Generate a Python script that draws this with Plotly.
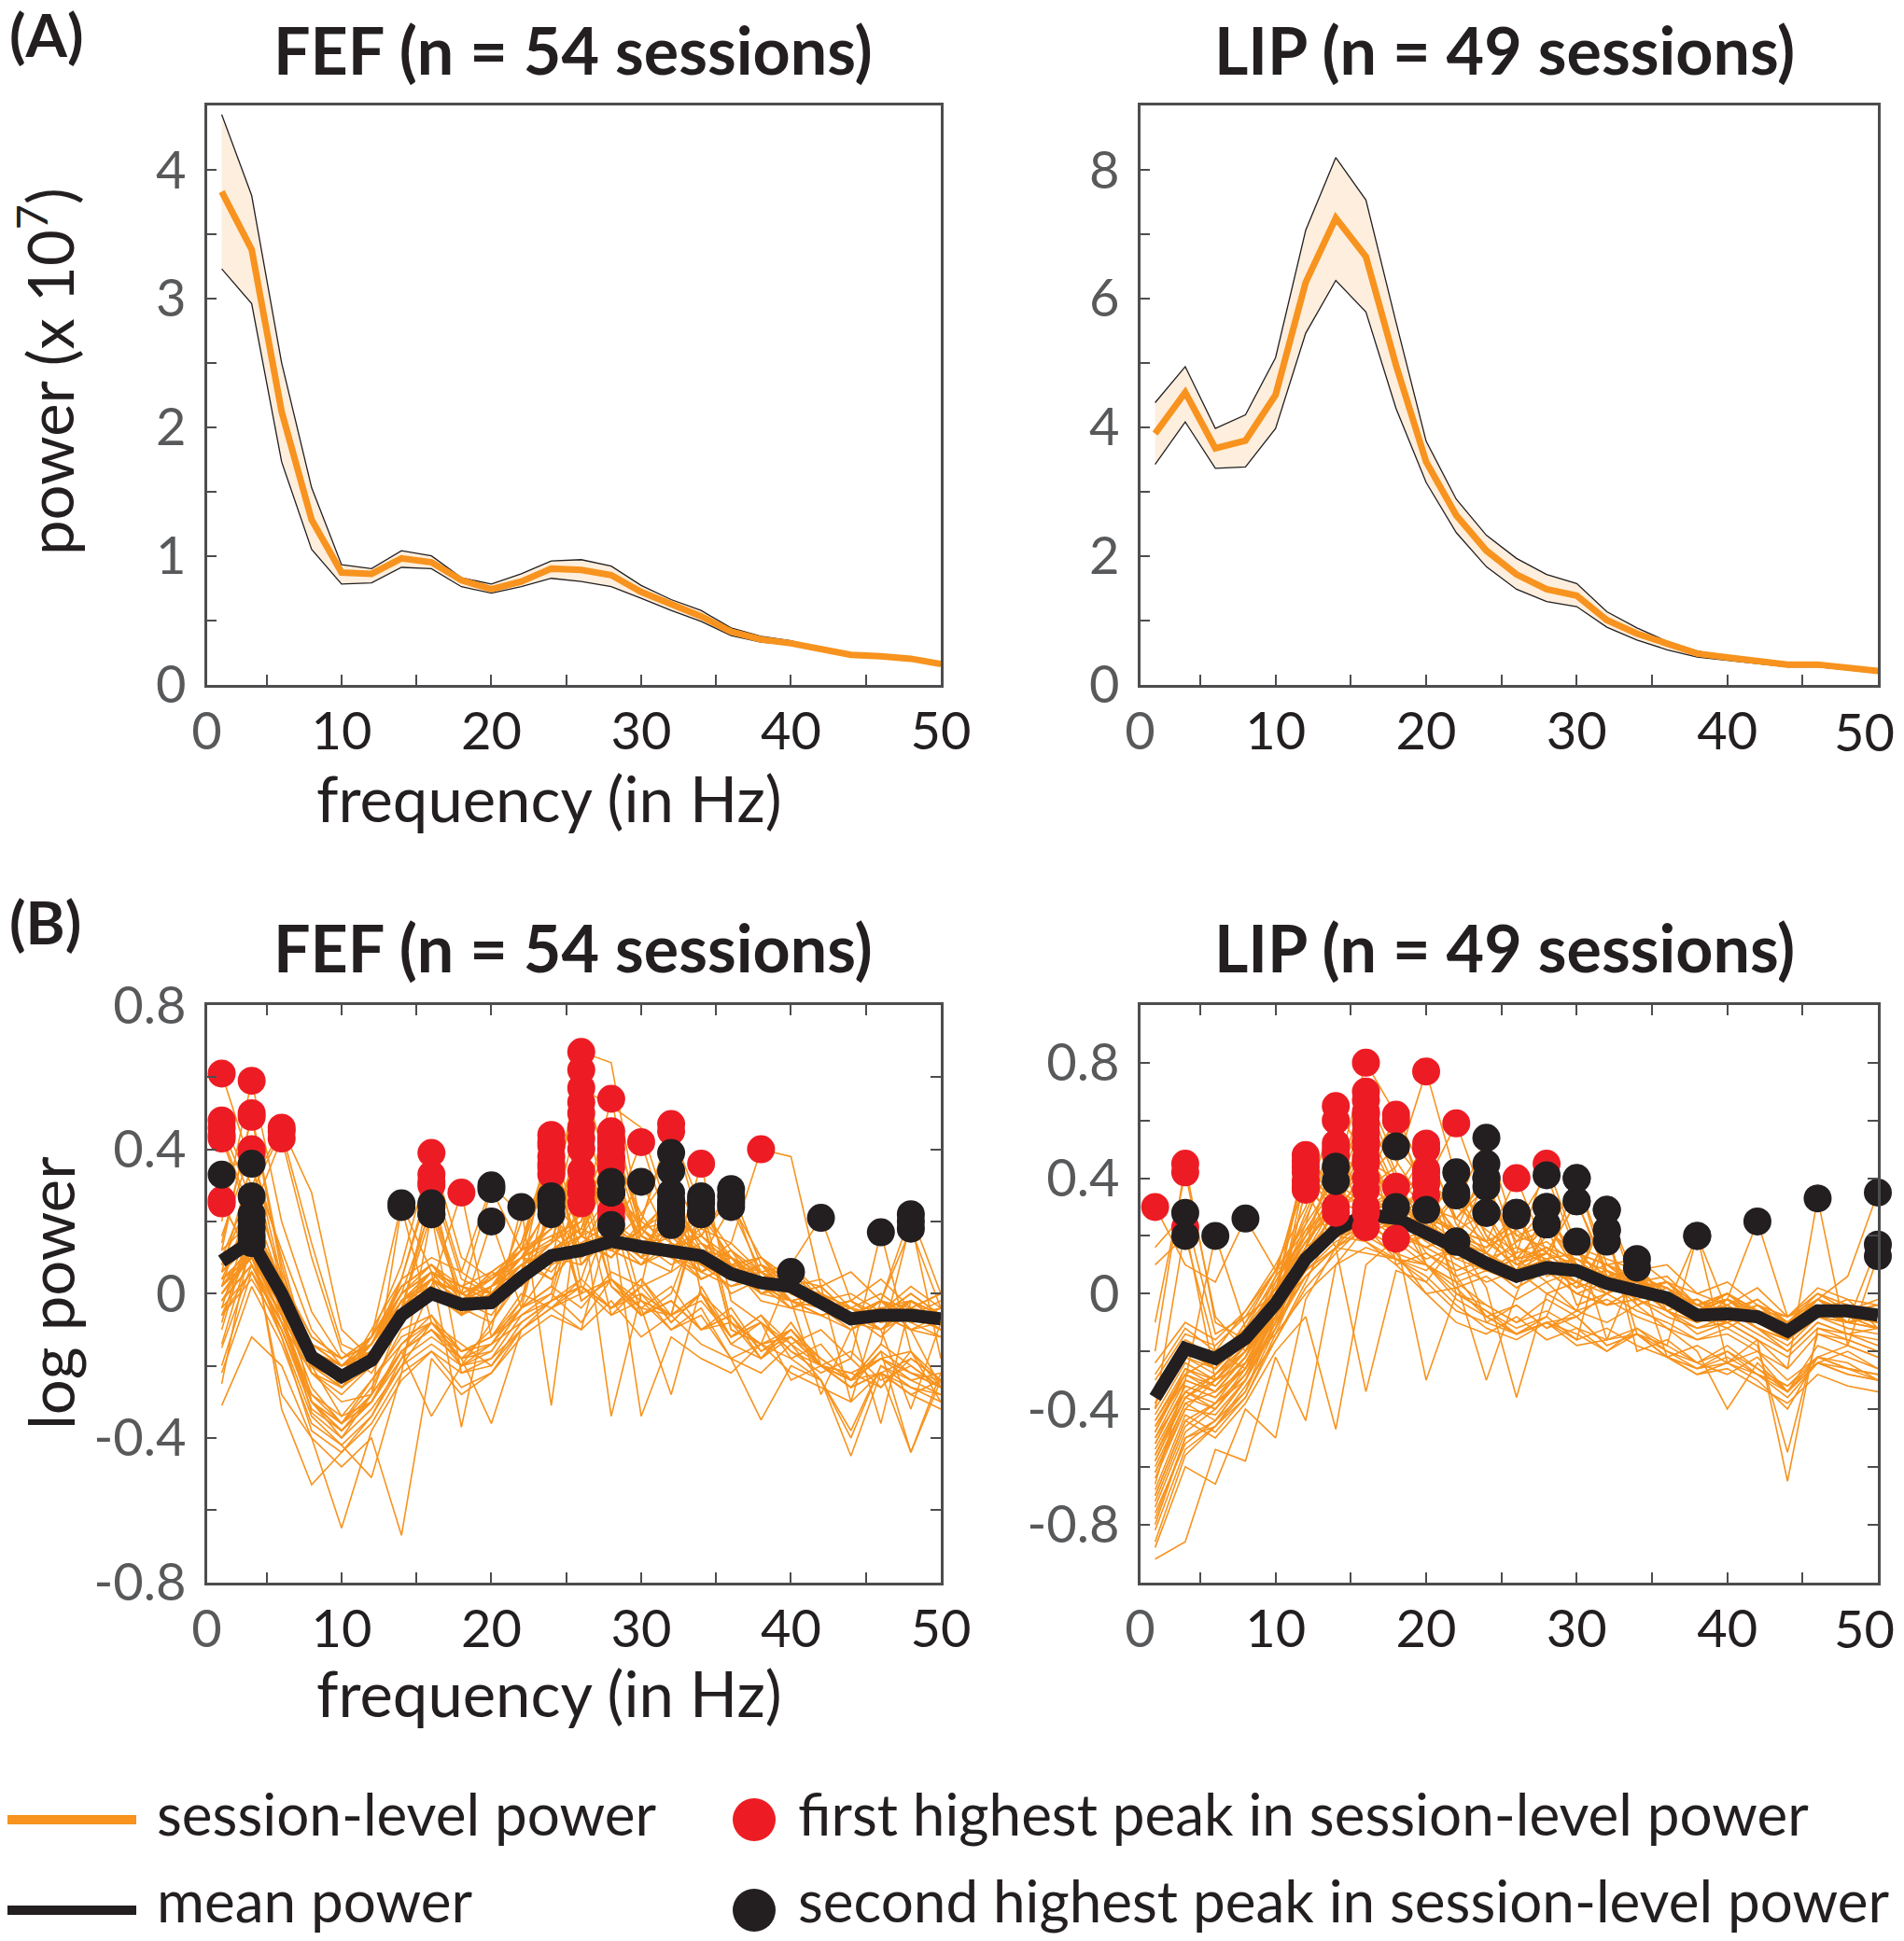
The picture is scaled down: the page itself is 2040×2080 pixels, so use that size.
import plotly.graph_objects as go

# --- frequency grid (Hz) ---
FREQS = [2, 4, 6, 8, 10, 12, 14, 16, 18, 20, 22, 24, 26, 28, 30, 32, 34, 36, 38, 40, 42, 44, 46, 48, 50]

# --- (A) raw power, x 10^7 ---
FEF_MEAN = [3.83, 3.38, 2.12, 1.28, 0.87, 0.86, 0.98, 0.95, 0.81, 0.74, 0.80, 0.90, 0.89, 0.85, 0.72,
            0.62, 0.53, 0.41, 0.35, 0.32, 0.27, 0.23, 0.22, 0.20, 0.16]
FEF_UPPER = [4.43, 3.80, 2.50, 1.53, 0.93, 0.90, 1.04, 1.00, 0.83, 0.78, 0.86, 0.96, 0.97, 0.92, 0.77,
             0.66, 0.575, 0.44, 0.375, 0.34, 0.28, 0.24, 0.225, 0.21, 0.17]
FEF_LOWER = [3.23, 2.96, 1.73, 1.05, 0.78, 0.79, 0.91, 0.90, 0.76, 0.71, 0.76, 0.825, 0.80, 0.76, 0.67,
             0.575, 0.49, 0.38, 0.33, 0.31, 0.26, 0.22, 0.21, 0.19, 0.15]
LIP_MEAN = [3.90, 4.54, 3.67, 3.79, 4.50, 6.25, 7.25, 6.65, 4.96, 3.46, 2.63, 2.08, 1.71, 1.48, 1.38,
            1.00, 0.79, 0.63, 0.48, 0.42, 0.36, 0.31, 0.31, 0.26, 0.21]
LIP_UPPER = [4.38, 4.94, 3.98, 4.19, 5.08, 7.06, 8.19, 7.53, 5.63, 3.78, 2.88, 2.32, 1.96, 1.71, 1.57,
             1.13, 0.88, 0.67, 0.52, 0.44, 0.375, 0.325, 0.325, 0.275, 0.225]
LIP_LOWER = [3.42, 4.08, 3.36, 3.38, 3.98, 5.46, 6.28, 5.79, 4.29, 3.14, 2.36, 1.83, 1.48, 1.29, 1.21,
             0.89, 0.69, 0.54, 0.425, 0.375, 0.325, 0.275, 0.275, 0.23, 0.18]

# --- (B) log power ---
FEF_LOG_MEAN = [0.09, 0.145, 0.0, -0.175, -0.23, -0.185, -0.06, 0.0, -0.03, -0.025, 0.045, 0.105, 0.12,
                0.145, 0.13, 0.12, 0.105, 0.055, 0.03, 0.02, -0.02, -0.07, -0.06, -0.06, -0.07]
LIP_LOG_MEAN = [-0.36, -0.19, -0.225, -0.155, -0.035, 0.12, 0.22, 0.275, 0.26, 0.215, 0.16, 0.105, 0.06,
                0.09, 0.08, 0.035, 0.01, -0.015, -0.075, -0.07, -0.08, -0.13, -0.06, -0.06, -0.075]

FEF_SESSIONS = [
    [0.61, 0.35, 0.12, -0.10, -0.20, -0.12, 0.02, 0.08, -0.02, 0.05, 0.10, 0.15, 0.22, 0.31, 0.18, 0.20, 0.12, 0.10, 0.04, 0.08, -0.02, 0.00, -0.05, 0.02, -0.04],
    [0.48, 0.30, 0.05, -0.30, -0.36, -0.26, -0.10, -0.06, -0.16, -0.12, -0.04, 0.02, -0.04, 0.06, 0.02, 0.39, 0.00, -0.08, -0.14, -0.10, -0.18, -0.24, -0.14, -0.20, -0.26],
    [0.44, 0.22, -0.05, -0.33, -0.40, -0.32, -0.20, -0.08, -0.18, -0.16, -0.04, 0.27, -0.02, 0.04, -0.06, -0.02, -0.10, -0.06, -0.18, -0.10, -0.20, -0.26, -0.16, -0.44, -0.22],
    [0.25, 0.10, -0.12, -0.38, -0.44, -0.36, -0.22, 0.22, -0.22, -0.18, -0.10, -0.04, -0.10, -0.02, -0.12, -0.06, -0.14, -0.18, -0.22, -0.14, -0.24, -0.40, -0.20, -0.26, -0.28],
    [0.20, 0.59, 0.20, -0.05, -0.18, -0.14, 0.00, 0.06, 0.02, -0.02, 0.06, 0.12, 0.18, 0.14, 0.22, 0.34, 0.16, 0.08, 0.06, 0.00, 0.02, -0.06, -0.04, -0.02, -0.08],
    [0.12, 0.50, 0.08, -0.22, -0.30, -0.28, -0.16, -0.08, -0.14, -0.20, -0.08, -0.02, 0.04, 0.28, -0.02, -0.06, 0.00, -0.12, -0.06, -0.18, -0.14, -0.24, -0.18, -0.16, -0.26],
    [0.33, 0.39, 0.10, -0.20, -0.34, -0.24, -0.12, -0.08, -0.18, -0.36, -0.10, -0.04, 0.02, -0.04, 0.04, -0.08, 0.00, -0.14, -0.18, -0.08, -0.20, -0.22, -0.26, -0.18, -0.24],
    [0.10, 0.30, 0.46, 0.28, -0.10, -0.18, -0.02, 0.06, -0.04, 0.00, 0.08, 0.04, 0.14, 0.10, 0.18, 0.12, 0.16, 0.29, 0.08, 0.04, -0.04, -0.02, -0.08, -0.04, -0.10],
    [0.04, 0.22, 0.43, 0.10, -0.16, -0.22, -0.08, 0.04, -0.02, -0.06, 0.06, 0.10, 0.08, 0.16, 0.12, 0.10, 0.27, 0.06, 0.10, 0.00, 0.02, -0.30, -0.02, -0.10, -0.06],
    [0.06, 0.36, 0.02, -0.20, -0.24, -0.12, 0.08, 0.39, 0.10, 0.04, 0.12, 0.16, 0.10, 0.18, 0.14, 0.08, 0.12, 0.04, 0.08, 0.02, -0.04, -0.02, -0.08, -0.04, -0.06],
    [0.02, 0.27, -0.04, -0.16, -0.26, -0.18, 0.04, 0.33, 0.06, 0.00, 0.10, 0.04, 0.14, 0.10, 0.18, 0.12, 0.06, 0.10, 0.02, -0.04, 0.00, -0.08, -0.02, -0.10, -0.26],
    [-0.06, 0.14, -0.08, -0.30, -0.40, -0.28, -0.06, 0.30, -0.06, 0.20, -0.04, 0.00, -0.08, 0.04, -0.04, 0.02, -0.10, -0.04, -0.16, -0.10, -0.20, -0.16, -0.24, -0.20, -0.26],
    [-0.04, 0.22, -0.06, -0.30, -0.38, -0.30, -0.18, 0.02, 0.28, -0.12, 0.00, -0.04, 0.04, -0.04, 0.02, -0.08, 0.00, -0.14, -0.08, -0.16, -0.22, -0.18, -0.26, -0.16, -0.24],
    [-0.10, 0.18, -0.04, -0.26, -0.36, -0.24, -0.14, -0.06, -0.20, -0.08, 0.06, 0.44, 0.02, -0.04, 0.04, -0.06, 0.00, -0.12, -0.06, -0.14, -0.20, -0.24, -0.16, -0.22, -0.24],
    [0.00, 0.12, -0.02, -0.18, -0.22, -0.12, 0.25, 0.06, -0.37, 0.02, 0.14, 0.38, 0.16, 0.20, 0.12, 0.16, 0.08, 0.10, 0.02, 0.06, -0.02, -0.08, -0.06, -0.02, -0.08],
    [0.08, 0.16, 0.02, -0.16, -0.20, -0.18, -0.04, 0.04, 0.00, -0.04, 0.20, 0.35, 0.12, 0.18, 0.10, 0.25, 0.06, 0.12, 0.04, 0.00, 0.02, -0.06, -0.10, -0.02, -0.06],
    [0.12, 0.20, 0.04, -0.12, -0.18, -0.14, 0.02, 0.08, -0.02, 0.04, 0.10, 0.20, 0.67, 0.64, 0.18, 0.23, 0.14, 0.08, 0.10, 0.04, -0.02, -0.04, 0.00, -0.06, -0.02],
    [0.02, 0.10, -0.06, -0.20, -0.24, -0.10, 0.04, 0.10, 0.06, 0.30, 0.22, 0.28, 0.57, 0.52, 0.46, 0.20, 0.16, 0.10, 0.04, 0.08, 0.00, -0.06, -0.04, -0.08, -0.04],
    [-0.15, 0.08, -0.10, -0.32, -0.38, -0.30, -0.16, -0.34, -0.20, -0.16, -0.04, 0.08, 0.50, 0.04, -0.02, -0.06, 0.23, -0.10, -0.14, -0.18, -0.24, -0.38, -0.20, -0.24, -0.28],
    [0.06, 0.14, 0.00, -0.18, -0.22, -0.18, -0.04, 0.06, -0.04, 0.02, 0.12, 0.18, 0.43, 0.16, 0.10, 0.20, 0.08, 0.02, 0.06, -0.02, 0.00, -0.08, -0.10, -0.04, -0.08],
    [-0.20, 0.06, -0.12, -0.34, -0.42, -0.34, -0.18, -0.12, -0.18, -0.10, 0.24, -0.31, 0.30, 0.02, -0.06, -0.02, -0.10, -0.08, -0.18, -0.12, -0.20, -0.26, -0.22, -0.44, -0.24],
    [-0.14, 0.14, -0.28, -0.40, -0.65, -0.38, -0.24, -0.16, -0.26, -0.22, -0.10, -0.02, 0.25, -0.34, 0.00, -0.10, -0.06, -0.18, -0.14, -0.22, -0.26, -0.30, -0.22, -0.28, -0.32],
    [0.00, 0.12, -0.04, -0.20, -0.26, -0.16, -0.02, 0.04, -0.06, 0.02, 0.06, 0.14, 0.20, 0.54, 0.16, 0.12, 0.22, 0.10, 0.04, 0.06, -0.02, -0.06, -0.02, -0.08, -0.06],
    [0.04, 0.10, -0.02, -0.16, -0.20, -0.14, 0.00, 0.06, 0.02, -0.02, 0.08, 0.12, 0.18, 0.43, 0.20, 0.14, 0.10, 0.24, 0.06, 0.02, 0.04, -0.04, -0.06, 0.00, -0.06],
    [-0.02, 0.08, -0.06, -0.22, -0.28, -0.20, -0.04, 0.25, 0.00, 0.04, 0.10, 0.06, 0.16, 0.40, 0.22, 0.10, 0.14, 0.04, 0.08, -0.02, -0.28, -0.10, -0.04, -0.08, -0.12],
    [0.06, 0.16, -0.02, -0.18, -0.24, -0.18, -0.04, 0.22, -0.02, 0.06, 0.02, 0.12, 0.18, 0.37, 0.14, 0.18, 0.08, 0.12, 0.00, 0.04, -0.04, -0.06, -0.12, -0.04, -0.08],
    [-0.31, -0.12, -0.20, -0.40, -0.48, -0.40, -0.67, -0.18, -0.28, -0.22, -0.12, -0.06, -0.10, 0.21, -0.34, -0.12, -0.18, -0.22, -0.14, 0.06, -0.20, -0.26, -0.22, -0.28, -0.24],
    [0.00, 0.10, -0.06, -0.20, -0.24, -0.18, -0.06, 0.00, -0.04, -0.08, 0.04, 0.10, 0.14, 0.20, 0.42, 0.16, 0.12, 0.06, 0.02, -0.02, 0.00, -0.06, -0.02, 0.18, -0.04],
    [0.04, 0.12, -0.02, -0.14, -0.20, -0.16, -0.02, 0.02, -0.06, 0.00, 0.06, 0.12, 0.16, 0.10, 0.20, 0.47, 0.18, 0.14, 0.06, 0.08, 0.21, -0.02, 0.04, -0.04, 0.00],
    [-0.06, 0.04, -0.10, -0.30, -0.36, -0.28, -0.16, -0.10, -0.20, -0.14, -0.08, -0.02, 0.02, -0.06, 0.02, 0.06, 0.36, -0.02, -0.08, -0.14, -0.10, -0.18, 0.17, -0.16, -0.30],
    [0.02, 0.10, -0.04, -0.18, -0.22, -0.16, -0.04, 0.02, -0.04, 0.00, 0.04, 0.10, 0.14, 0.12, 0.16, 0.12, 0.08, 0.14, 0.40, 0.38, 0.02, 0.06, -0.02, 0.22, 0.00],
    [-0.02, 0.08, -0.08, -0.22, -0.26, -0.20, -0.06, 0.00, -0.06, -0.02, 0.06, 0.14, 0.46, 0.12, 0.08, 0.19, 0.04, 0.08, -0.02, -0.04, -0.06, -0.10, -0.06, -0.10, -0.12],
    [0.04, 0.10, -0.04, -0.18, -0.24, -0.18, -0.04, 0.04, -0.02, 0.06, 0.12, 0.41, 0.08, 0.19, 0.10, 0.06, 0.12, 0.00, 0.04, -0.02, -0.06, -0.04, -0.10, -0.06, -0.08],
    [0.08, 0.18, 0.02, -0.14, -0.20, -0.14, 0.00, 0.08, 0.02, 0.00, 0.10, 0.14, 0.22, 0.45, 0.18, 0.26, 0.14, 0.10, 0.06, 0.00, -0.02, -0.06, -0.02, -0.06, -0.04],
    [0.46, 0.26, 0.02, -0.18, -0.22, -0.20, -0.06, 0.02, -0.04, 0.00, 0.08, 0.12, 0.10, 0.16, 0.12, 0.24, 0.08, 0.04, 0.06, 0.00, -0.04, -0.08, -0.36, -0.02, -0.08],
    [0.14, 0.49, 0.06, -0.16, -0.20, -0.16, -0.04, 0.04, 0.00, -0.04, 0.06, 0.10, 0.14, 0.12, 0.18, 0.10, 0.25, 0.08, 0.02, 0.04, -0.02, -0.06, -0.02, -0.08, -0.04],
    [-0.04, 0.06, -0.08, -0.28, -0.36, -0.30, -0.14, -0.08, -0.16, -0.12, -0.02, 0.33, -0.02, 0.04, -0.06, 0.00, 0.22, -0.10, -0.14, -0.12, -0.20, -0.24, -0.22, -0.18, -0.24],
    [0.06, 0.14, 0.00, -0.16, -0.20, -0.16, -0.02, 0.04, -0.02, 0.02, 0.10, 0.18, 0.53, 0.20, 0.14, 0.12, 0.16, 0.27, 0.04, 0.02, 0.00, -0.04, -0.08, -0.02, -0.06],
    [-0.02, 0.08, -0.06, -0.20, -0.24, -0.18, -0.04, 0.02, -0.04, 0.00, 0.06, 0.10, 0.16, 0.38, 0.12, 0.22, 0.10, 0.06, 0.00, 0.04, -0.04, -0.08, -0.04, -0.08, -0.06],
    [-0.02, 0.12, -0.04, -0.20, -0.24, -0.14, 0.04, 0.31, 0.04, 0.00, 0.10, 0.08, 0.12, 0.28, 0.16, 0.10, 0.04, 0.08, 0.02, -0.02, -0.06, -0.04, -0.10, -0.32, -0.08],
    [-0.08, 0.20, -0.02, -0.18, -0.22, -0.14, -0.02, 0.06, 0.00, 0.04, 0.14, 0.42, 0.16, 0.12, 0.18, 0.10, 0.06, 0.10, 0.00, 0.02, -0.04, -0.08, -0.02, -0.06, -0.10],
    [0.00, 0.10, -0.06, -0.20, -0.26, -0.16, 0.00, 0.24, -0.02, 0.02, 0.08, 0.14, 0.40, 0.18, 0.10, 0.14, 0.06, 0.10, 0.02, -0.02, -0.04, -0.10, -0.06, -0.10, -0.08],
    [0.02, 0.14, -0.04, -0.16, -0.22, -0.16, -0.04, 0.04, -0.02, 0.02, 0.10, 0.26, 0.16, 0.35, 0.12, 0.16, 0.08, 0.04, 0.06, 0.00, -0.02, -0.06, -0.02, -0.08, -0.06],
    [0.43, 0.20, -0.06, -0.28, -0.34, -0.30, -0.16, -0.10, -0.16, -0.14, -0.02, 0.24, 0.00, 0.04, -0.04, -0.28, 0.02, -0.12, -0.08, -0.16, -0.20, -0.24, -0.18, -0.22, -0.26],
    [0.16, 0.40, 0.04, -0.14, -0.20, -0.14, -0.02, 0.04, 0.00, -0.02, 0.06, 0.12, 0.10, 0.18, 0.31, 0.14, 0.10, 0.04, 0.08, 0.00, -0.04, -0.02, -0.06, -0.04, -0.08],
    [0.10, 0.18, 0.04, -0.12, -0.18, -0.12, 0.02, 0.08, 0.00, 0.04, 0.12, 0.16, 0.20, 0.42, 0.16, 0.28, 0.12, 0.08, 0.10, 0.02, 0.00, -0.04, -0.06, 0.00, -0.06],
    [-0.25, 0.16, -0.32, -0.53, -0.44, -0.34, -0.20, -0.14, -0.20, -0.18, -0.06, 0.00, 0.28, -0.06, -0.02, -0.10, -0.04, -0.18, -0.35, -0.20, -0.24, -0.45, -0.22, -0.26, -0.30],
    [0.02, 0.12, -0.02, -0.18, -0.22, -0.16, -0.04, 0.04, 0.00, 0.29, 0.12, 0.36, 0.16, 0.12, 0.08, 0.14, 0.06, 0.02, 0.04, -0.04, -0.02, -0.06, -0.10, -0.04, -0.08],
    [-0.06, 0.06, -0.08, -0.30, -0.38, -0.30, -0.16, -0.10, -0.18, -0.14, -0.04, 0.02, 0.34, 0.02, -0.04, -0.06, 0.26, -0.08, -0.14, -0.12, -0.20, -0.22, -0.18, -0.24, -0.22],
    [-0.22, 0.02, -0.14, -0.36, -0.42, -0.51, -0.22, -0.16, -0.22, -0.20, -0.10, -0.04, 0.00, 0.23, -0.06, -0.02, -0.10, -0.06, -0.16, -0.12, -0.18, -0.24, -0.14, 0.20, -0.18],
    [0.08, 0.28, 0.45, 0.14, -0.14, -0.18, -0.06, 0.02, -0.04, 0.00, 0.06, 0.22, 0.12, 0.16, 0.08, 0.12, 0.04, 0.08, 0.00, -0.02, -0.06, -0.04, -0.08, -0.06, -0.10],
    [0.10, 0.16, 0.02, -0.14, -0.18, -0.12, 0.00, 0.06, 0.02, 0.06, 0.12, 0.24, 0.62, 0.30, 0.16, 0.12, 0.18, 0.25, 0.10, 0.04, 0.02, -0.06, -0.02, -0.04, 0.00],
    [0.26, 0.08, -0.10, -0.30, -0.38, -0.28, 0.24, -0.08, -0.16, -0.12, -0.06, -0.02, 0.02, -0.04, 0.00, -0.06, -0.02, -0.12, -0.08, -0.24, -0.20, -0.24, -0.18, -0.22, -0.26],
    [0.04, 0.12, -0.02, -0.16, -0.20, -0.16, -0.02, 0.04, -0.02, 0.02, 0.08, 0.12, 0.16, 0.28, 0.20, 0.45, 0.24, 0.12, 0.06, 0.02, 0.00, -0.04, -0.08, -0.02, -0.06],
]

LIP_SESSIONS = [
    [0.30, 0.10, 0.04, 0.26, 0.08, 0.14, 0.20, 0.18, 0.10, 0.14, 0.06, 0.10, 0.02, 0.08, 0.04, 0.00, 0.06, -0.04, -0.02, -0.08, -0.04, -0.10, 0.00, -0.06, -0.02],
    [-0.20, 0.45, -0.10, -0.16, 0.02, 0.12, 0.20, 0.24, 0.18, 0.22, 0.14, 0.28, 0.06, 0.12, 0.04, 0.08, -0.02, 0.02, -0.06, -0.02, -0.10, -0.14, -0.04, -0.08, -0.10],
    [-0.10, 0.42, -0.08, -0.20, -0.06, 0.16, 0.39, 0.30, 0.20, 0.12, 0.16, 0.08, 0.04, 0.10, 0.02, 0.06, -0.04, 0.00, -0.10, -0.06, -0.12, -0.16, -0.08, -0.04, -0.10],
    [-0.40, 0.23, -0.30, -0.24, -0.14, 0.00, 0.10, 0.16, 0.12, 0.06, -0.04, -0.12, -0.16, -0.10, -0.14, -0.20, -0.12, -0.18, 0.20, -0.24, -0.20, -0.30, -0.22, -0.26, -0.28],
    [-0.50, -0.30, -0.34, -0.22, 0.00, 0.48, 0.36, 0.30, 0.28, 0.24, 0.42, 0.20, 0.08, 0.14, 0.06, 0.10, 0.02, 0.04, -0.06, -0.02, -0.08, -0.12, -0.04, -0.08, -0.06],
    [-0.62, -0.40, -0.30, -0.18, 0.06, 0.44, 0.30, 0.34, 0.20, 0.26, 0.18, 0.40, 0.10, 0.16, 0.08, 0.04, 0.06, -0.02, -0.08, -0.04, -0.10, -0.14, -0.06, -0.10, -0.08],
    [-0.34, -0.20, -0.26, -0.10, 0.08, 0.39, 0.24, 0.20, 0.26, 0.18, 0.12, 0.08, 0.28, 0.06, 0.10, 0.02, 0.04, -0.06, -0.02, -0.10, -0.06, -0.12, -0.02, -0.08, -0.10],
    [-0.72, -0.46, -0.38, -0.30, -0.10, 0.37, 0.26, 0.22, 0.16, 0.20, 0.12, 0.14, 0.08, 0.30, 0.10, 0.04, 0.08, -0.04, -0.06, 0.00, -0.08, -0.16, -0.06, -0.02, -0.12],
    [-0.28, -0.12, -0.20, -0.06, 0.10, 0.30, 0.65, 0.46, 0.40, 0.36, 0.30, 0.54, 0.20, 0.24, 0.16, 0.12, 0.08, 0.10, 0.00, 0.04, -0.04, -0.08, 0.02, -0.02, -0.04],
    [-0.42, -0.24, -0.30, -0.18, 0.02, 0.28, 0.52, 0.38, 0.30, 0.26, 0.22, 0.18, 0.24, 0.41, 0.14, 0.10, 0.06, 0.02, -0.06, -0.02, -0.10, -0.12, -0.04, -0.08, -0.06],
    [-0.56, -0.36, -0.28, -0.20, 0.04, 0.26, 0.48, 0.34, 0.28, 0.22, 0.16, 0.12, 0.08, 0.20, 0.40, 0.10, 0.04, 0.06, -0.04, -0.08, -0.06, -0.14, -0.02, -0.10, -0.08],
    [-0.66, -0.30, 0.20, -0.12, -0.06, 0.14, 0.28, 0.18, 0.12, 0.04, -0.06, -0.10, -0.04, -0.12, -0.08, -0.18, -0.14, -0.22, -0.26, -0.20, -0.28, -0.34, -0.24, -0.28, -0.30],
    [-0.30, -0.14, -0.18, -0.08, 0.08, 0.24, 0.40, 0.80, 0.62, 0.30, 0.26, 0.37, 0.18, 0.22, 0.14, 0.10, 0.12, 0.04, 0.00, -0.04, 0.02, -0.08, -0.02, -0.06, -0.04],
    [-0.48, -0.26, -0.32, -0.20, 0.00, 0.20, 0.36, 0.67, 0.42, 0.28, 0.20, 0.16, 0.22, 0.14, 0.32, 0.08, 0.04, 0.00, -0.06, -0.02, -0.08, -0.12, -0.06, -0.10, -0.08],
    [-0.80, -0.50, -0.44, -0.34, -0.12, 0.16, 0.34, 0.63, 0.40, 0.22, 0.35, 0.18, 0.10, 0.14, 0.06, 0.08, -0.02, 0.02, -0.08, -0.10, -0.06, -0.16, -0.08, -0.04, -0.10],
    [-0.38, -0.22, -0.26, -0.14, 0.02, 0.18, 0.30, 0.59, 0.36, 0.20, 0.14, 0.08, 0.12, 0.24, 0.08, 0.04, 0.10, -0.02, -0.06, 0.00, -0.08, -0.10, -0.04, -0.08, -0.12],
    [-0.86, -0.56, -0.46, -0.36, -0.14, 0.10, 0.30, 0.53, 0.24, 0.29, 0.04, -0.04, -0.10, -0.06, -0.12, -0.16, -0.14, -0.20, -0.24, -0.18, -0.26, -0.32, -0.22, -0.26, -0.28],
    [-0.44, -0.28, -0.22, -0.12, 0.06, 0.20, 0.32, 0.47, 0.30, 0.24, 0.18, 0.14, 0.08, 0.12, 0.06, 0.29, 0.04, 0.00, -0.04, -0.08, -0.04, -0.10, -0.02, -0.06, -0.08],
    [-0.54, -0.34, -0.40, -0.28, -0.08, 0.12, 0.26, 0.40, 0.28, 0.10, -0.02, -0.08, -0.14, -0.10, -0.16, 0.22, -0.20, -0.16, -0.24, -0.28, -0.22, -0.34, -0.24, -0.26, -0.30],
    [0.16, 0.28, -0.14, -0.08, 0.00, 0.12, 0.20, 0.30, 0.22, 0.16, 0.10, 0.04, 0.08, 0.00, 0.04, -0.04, -0.02, -0.08, -0.12, -0.10, -0.16, -0.22, -0.12, -0.14, -0.18],
    [-0.92, -0.86, -0.54, -0.58, -0.22, -0.44, 0.10, 0.23, 0.12, 0.08, 0.18, 0.02, -0.36, 0.00, -0.06, -0.10, -0.04, -0.12, -0.16, -0.14, -0.20, -0.26, -0.14, -0.18, -0.22],
    [-0.36, -0.18, -0.26, -0.10, 0.04, 0.20, 0.44, 0.36, 0.62, 0.40, 0.30, 0.22, 0.14, 0.18, 0.10, 0.06, 0.08, 0.00, -0.04, -0.02, -0.06, -0.12, -0.04, -0.06, -0.08],
    [-0.46, -0.28, -0.32, -0.22, -0.06, 0.06, 0.16, 0.24, 0.37, 0.10, 0.00, -0.06, -0.12, -0.08, 0.18, -0.16, -0.12, -0.20, -0.26, -0.22, -0.28, -0.32, -0.24, -0.20, -0.26],
    [-0.70, -0.44, -0.50, -0.38, -0.20, -0.08, -0.47, 0.10, 0.19, -0.30, 0.00, -0.04, -0.10, -0.02, -0.08, 0.00, 0.12, -0.06, -0.14, -0.10, -0.16, -0.65, -0.12, -0.16, -0.20],
    [-0.24, -0.10, -0.16, -0.06, 0.08, 0.22, 0.30, 0.36, 0.44, 0.77, 0.40, 0.20, 0.12, 0.24, 0.10, 0.06, 0.02, 0.04, -0.04, 0.00, -0.06, -0.10, -0.02, -0.06, -0.04],
    [-0.60, -0.38, -0.34, -0.26, -0.08, 0.10, 0.22, 0.30, 0.36, 0.52, 0.24, 0.14, 0.06, 0.10, 0.02, 0.18, -0.04, 0.00, -0.08, -0.12, -0.06, -0.14, -0.08, -0.10, -0.12],
    [-0.32, -0.16, -0.22, -0.12, 0.02, 0.18, 0.30, 0.40, 0.51, 0.38, 0.59, 0.30, 0.20, 0.16, 0.12, 0.08, 0.04, 0.02, -0.04, 0.00, -0.06, -0.08, 0.00, -0.04, -0.06],
    [-0.78, -0.50, -0.46, -0.32, -0.16, 0.02, 0.14, 0.24, 0.30, 0.43, 0.06, -0.08, -0.14, -0.10, -0.18, -0.16, 0.09, -0.22, -0.28, -0.26, -0.32, -0.38, -0.28, -0.32, -0.34],
    [-0.52, -0.32, -0.36, -0.24, -0.04, 0.12, 0.20, 0.22, 0.24, 0.40, 0.16, 0.10, 0.02, 0.08, 0.00, -0.04, 0.02, -0.06, -0.10, -0.02, 0.25, -0.08, -0.04, -0.10, -0.06],
    [-0.64, -0.40, -0.42, -0.30, -0.10, 0.06, 0.16, 0.22, 0.26, 0.34, 0.00, -0.06, -0.14, -0.10, -0.08, -0.18, -0.14, -0.22, -0.18, -0.24, -0.16, -0.26, 0.33, -0.18, -0.22],
    [-0.44, -0.26, -0.30, -0.20, -0.02, 0.14, 0.22, 0.26, 0.20, 0.16, 0.22, 0.18, 0.40, 0.14, 0.10, 0.06, 0.02, 0.04, -0.04, 0.00, -0.06, -0.10, -0.02, 0.06, 0.35],
    [-0.50, -0.34, -0.28, -0.18, -0.06, 0.08, 0.16, 0.14, 0.12, 0.10, 0.04, 0.08, 0.14, 0.45, 0.16, 0.02, 0.06, -0.02, -0.08, -0.04, -0.12, -0.16, -0.06, -0.10, 0.17],
    [-0.68, -0.42, -0.48, -0.36, -0.16, 0.04, 0.26, 0.62, 0.10, 0.00, -0.10, -0.14, -0.08, -0.16, -0.12, -0.20, -0.14, -0.22, -0.28, -0.24, -0.30, -0.40, -0.22, -0.18, 0.13],
    [-0.58, -0.36, -0.40, -0.28, -0.06, 0.16, 0.50, 0.24, 0.30, 0.14, 0.08, 0.12, 0.04, 0.08, 0.00, -0.04, 0.02, -0.06, -0.10, -0.06, -0.12, -0.18, -0.08, -0.12, -0.14],
    [-0.74, -0.48, -0.40, -0.26, -0.02, 0.46, 0.32, 0.28, 0.22, 0.16, 0.20, 0.12, 0.06, 0.10, 0.04, 0.29, 0.00, 0.04, -0.06, -0.10, -0.04, -0.12, -0.06, -0.10, -0.08],
    [-0.40, -0.22, -0.28, -0.16, 0.00, 0.22, 0.38, 0.70, 0.46, 0.30, 0.20, 0.16, 0.28, 0.10, 0.12, 0.04, 0.06, -0.02, -0.06, -0.04, -0.10, -0.14, -0.06, -0.10, -0.08],
    [-0.34, -0.18, -0.24, -0.14, 0.02, 0.16, 0.24, 0.30, 0.34, 0.42, 0.26, 0.40, 0.12, 0.16, 0.08, 0.04, 0.08, 0.00, -0.04, -0.08, -0.02, -0.10, -0.04, -0.06, -0.10],
    [-0.56, -0.34, -0.38, -0.24, -0.06, 0.14, 0.32, 0.56, 0.34, 0.24, 0.18, 0.12, 0.16, 0.10, 0.40, 0.06, 0.02, 0.04, -0.06, -0.02, -0.10, -0.12, -0.04, -0.08, -0.12],
    [-0.48, -0.28, -0.34, -0.22, 0.00, 0.24, 0.60, 0.42, 0.36, 0.28, 0.22, 0.45, 0.16, 0.12, 0.14, 0.06, 0.02, 0.00, -0.08, -0.04, -0.10, -0.16, -0.06, -0.10, -0.06],
    [-0.62, -0.38, -0.44, -0.30, -0.12, 0.10, 0.26, 0.45, 0.32, 0.22, 0.16, 0.10, 0.18, 0.30, 0.08, 0.02, 0.06, -0.04, -0.10, -0.06, -0.12, -0.20, -0.10, -0.14, -0.12],
    [-0.82, -0.54, -0.46, -0.34, -0.08, 0.42, 0.28, 0.24, 0.18, 0.20, 0.34, 0.14, 0.04, 0.08, 0.00, 0.04, -0.02, -0.06, -0.12, -0.08, -0.14, -0.20, -0.10, -0.14, -0.16],
    [-0.46, -0.30, -0.34, -0.22, -0.04, 0.12, 0.22, 0.28, 0.32, 0.50, 0.26, 0.18, 0.10, 0.14, 0.32, 0.06, 0.08, 0.00, -0.06, -0.02, -0.08, -0.14, -0.06, -0.08, -0.10],
    [-0.88, -0.60, -0.66, -0.40, -0.50, -0.02, 0.16, 0.36, 0.18, 0.10, 0.04, -0.30, 0.00, 0.24, -0.04, 0.00, -0.06, -0.10, -0.16, -0.12, -0.18, -0.55, -0.14, -0.16, -0.20],
    [-0.70, -0.44, -0.38, -0.28, -0.10, 0.12, 0.30, 0.20, 0.14, 0.00, 0.02, -0.08, -0.04, -0.12, -0.06, 0.22, -0.14, -0.18, -0.24, -0.20, -0.26, -0.34, -0.22, -0.24, -0.30],
    [0.10, 0.20, -0.20, -0.26, -0.12, 0.06, 0.16, 0.28, 0.14, 0.10, 0.02, 0.06, -0.02, 0.04, -0.06, -0.02, -0.08, -0.12, -0.20, -0.40, -0.24, -0.34, -0.18, -0.22, -0.26],
    [-0.38, -0.20, -0.26, -0.16, 0.00, 0.18, 0.32, 0.44, 0.60, 0.34, 0.22, 0.28, 0.12, 0.14, 0.06, 0.08, 0.02, -0.04, -0.02, -0.08, -0.10, -0.12, -0.04, -0.06, -0.10],
    [-0.58, -0.36, -0.30, -0.20, -0.08, 0.08, 0.18, 0.24, 0.28, 0.38, 0.20, 0.14, 0.27, 0.08, 0.10, 0.02, 0.04, -0.04, -0.08, -0.10, -0.06, -0.16, -0.08, -0.10, -0.12],
    [-0.52, -0.32, -0.36, -0.26, -0.06, 0.14, 0.28, 0.51, 0.30, 0.20, 0.14, 0.08, 0.12, 0.04, 0.08, 0.00, 0.04, -0.04, 0.20, -0.06, -0.02, -0.10, -0.04, -0.08, -0.06],
    [-0.76, -0.52, -0.44, -0.30, -0.06, 0.36, 0.16, -0.34, 0.08, 0.04, 0.18, -0.10, -0.14, -0.08, -0.16, -0.12, -0.18, -0.22, -0.26, -0.24, -0.28, -0.36, -0.24, -0.28, -0.30],
]

# highest (first) and second highest peaks per session: frequency, log power
FEF_PEAK1_HZ = [2, 2, 2, 2, 4, 4, 4, 6, 6, 16, 16, 16, 18, 24, 24, 24, 26, 26, 26, 26, 26, 26, 28, 28, 28, 28, 28,
                30, 32, 34, 38, 26, 24, 28, 2, 4, 24, 26, 28, 16, 24, 26, 28, 2, 4, 28, 26, 24, 26, 28, 6, 26, 2, 32]
FEF_PEAK1_VAL = [0.61, 0.48, 0.44, 0.25, 0.59, 0.50, 0.39, 0.46, 0.43, 0.39, 0.33, 0.30, 0.28, 0.44, 0.38, 0.35,
                 0.67, 0.57, 0.50, 0.43, 0.30, 0.25, 0.54, 0.43, 0.40, 0.37, 0.21, 0.42, 0.47, 0.36, 0.40, 0.46,
                 0.41, 0.45, 0.46, 0.49, 0.33, 0.53, 0.38, 0.31, 0.42, 0.40, 0.35, 0.43, 0.40, 0.42, 0.28, 0.36,
                 0.34, 0.23, 0.45, 0.62, 0.26, 0.45]
FEF_PEAK2_HZ = [28, 32, 24, 16, 32, 28, 2, 36, 34, 4, 4, 20, 4, 4, 14, 32, 32, 20, 34, 32, 22, 4, 34, 36, 16, 16,
                40, 48, 42, 46, 48, 32, 28, 32, 32, 34, 34, 36, 32, 28, 4, 16, 24, 24, 30, 32, 4, 20, 34, 48, 24,
                36, 14, 28]
FEF_PEAK2_VAL = [0.31, 0.39, 0.27, 0.22, 0.34, 0.28, 0.33, 0.29, 0.27, 0.36, 0.27, 0.20, 0.22, 0.18, 0.25, 0.25,
                 0.23, 0.30, 0.23, 0.20, 0.24, 0.14, 0.22, 0.24, 0.25, 0.22, 0.06, 0.18, 0.21, 0.17, 0.22, 0.19,
                 0.19, 0.26, 0.24, 0.25, 0.22, 0.27, 0.22, 0.28, 0.20, 0.24, 0.26, 0.24, 0.31, 0.28, 0.16, 0.29,
                 0.26, 0.20, 0.22, 0.25, 0.24, 0.28]

LIP_PEAK1_HZ = [2, 4, 4, 4, 12, 12, 12, 12, 14, 14, 14, 14, 16, 16, 16, 16, 16, 16, 16, 16, 16, 18, 18, 18, 20,
                20, 22, 20, 20, 20, 26, 28, 16, 14, 12, 16, 20, 16, 14, 16, 12, 20, 16, 14, 16, 18, 20, 16, 12]
LIP_PEAK1_VAL = [0.30, 0.45, 0.42, 0.23, 0.48, 0.44, 0.39, 0.37, 0.65, 0.52, 0.48, 0.28, 0.80, 0.67, 0.63, 0.59,
                 0.53, 0.47, 0.40, 0.30, 0.23, 0.62, 0.37, 0.19, 0.77, 0.52, 0.59, 0.43, 0.40, 0.34, 0.40, 0.45,
                 0.62, 0.50, 0.46, 0.70, 0.42, 0.56, 0.60, 0.45, 0.42, 0.50, 0.36, 0.30, 0.28, 0.60, 0.38, 0.51,
                 0.36]
LIP_PEAK2_HZ = [8, 24, 14, 38, 22, 24, 26, 28, 24, 28, 30, 6, 24, 30, 22, 28, 20, 32, 32, 4, 22, 14, 30, 34, 28,
                32, 18, 34, 42, 46, 50, 50, 50, 18, 32, 26, 24, 30, 24, 28, 22, 30, 28, 32, 4, 24, 26, 38, 22]
LIP_PEAK2_VAL = [0.26, 0.28, 0.39, 0.20, 0.42, 0.40, 0.28, 0.30, 0.54, 0.41, 0.40, 0.20, 0.37, 0.32, 0.35, 0.24,
                 0.29, 0.29, 0.22, 0.28, 0.18, 0.44, 0.18, 0.12, 0.24, 0.18, 0.51, 0.09, 0.25, 0.33, 0.35, 0.17,
                 0.13, 0.30, 0.29, 0.28, 0.40, 0.40, 0.45, 0.30, 0.34, 0.32, 0.24, 0.22, 0.20, 0.28, 0.27, 0.20,
                 0.18]

# --- styling ---
ORANGE = "#f7931e"
RED = "#ed1c24"
BLACK = "#231f20"
GREY = "#4d4d4f"
LABEL_GREY = "#58595b"
PEACH = "#fdeedd"
FONT = "Lato, 'Open Sans', sans-serif"
OFF = 8  # default page body margin
W, H = 2040 - 2 * OFF, 2080 - 2 * OFF  # figure fits the window without scrollbars


def px(x):
    # window pixel -> paper fraction
    return (x - OFF) / W


def py(y):
    return 1 - (y - OFF) / H


def stack(rows):
    xs, ys = [], []
    for row in rows:
        xs += FREQS + [None]
        ys += row + [None]
    return xs, ys


fig = go.Figure()

# (A) panels: sem band + mean
for (lo, up, mean, xa, ya) in [(FEF_LOWER, FEF_UPPER, FEF_MEAN, "x", "y"),
                               (LIP_LOWER, LIP_UPPER, LIP_MEAN, "x2", "y2")]:
    fig.add_trace(go.Scatter(x=FREQS, y=lo, mode="lines", line=dict(color=BLACK, width=1.3),
                             xaxis=xa, yaxis=ya, showlegend=False, hoverinfo="skip"))
    fig.add_trace(go.Scatter(x=FREQS, y=up, mode="lines", line=dict(color=BLACK, width=1.3),
                             fill="tonexty", fillcolor=PEACH,
                             xaxis=xa, yaxis=ya, showlegend=False, hoverinfo="skip"))
    fig.add_trace(go.Scatter(x=FREQS, y=mean, mode="lines", line=dict(color=ORANGE, width=7),
                             xaxis=xa, yaxis=ya, showlegend=False))

# (B) panels: sessions, mean, peaks
for (rows, mean, p1x, p1y, p2x, p2y, xa, ya) in [
        (FEF_SESSIONS, FEF_LOG_MEAN, FEF_PEAK1_HZ, FEF_PEAK1_VAL, FEF_PEAK2_HZ, FEF_PEAK2_VAL, "x3", "y3"),
        (LIP_SESSIONS, LIP_LOG_MEAN, LIP_PEAK1_HZ, LIP_PEAK1_VAL, LIP_PEAK2_HZ, LIP_PEAK2_VAL, "x4", "y4")]:
    sx, sy = stack(rows)
    fig.add_trace(go.Scatter(x=sx, y=sy, mode="lines", line=dict(color=ORANGE, width=1.6),
                             connectgaps=False, xaxis=xa, yaxis=ya, showlegend=False, hoverinfo="skip"))
    fig.add_trace(go.Scatter(x=FREQS, y=mean, mode="lines", line=dict(color=BLACK, width=14),
                             xaxis=xa, yaxis=ya, showlegend=False))
    fig.add_trace(go.Scatter(x=p1x, y=p1y, mode="markers", cliponaxis=False,
                             marker=dict(color=RED, size=30, line=dict(width=0)),
                             xaxis=xa, yaxis=ya, showlegend=False))
    fig.add_trace(go.Scatter(x=p2x, y=p2y, mode="markers", cliponaxis=False,
                             marker=dict(color=BLACK, size=30, line=dict(width=0)),
                             xaxis=xa, yaxis=ya, showlegend=False))

# --- axes ---
X_TICKVALS = [1, 5, 10, 15, 20, 25, 30, 35, 40, 45, 50]
ZERO = "<span style='color:%s'>0</span>" % LABEL_GREY
X_TICKTEXT = [ZERO, " ", "10", " ", "20", " ", "30", " ", "40", " ", "50"]
# right-hand panels: the "50" label sits at the window edge and is written separately
X_TICKTEXT_RIGHT = [ZERO, " ", "10", " ", "20", " ", "30", " ", "40", " ", " "]

left_dom = [px(221.5), px(1008)]
right_dom = [px(1221.5), px(2012)]
top_dom = [py(733.5), py(113)]
bot_dom = [py(1695.5), py(1077)]


def xaxis(domain, anchor, mirror, text):
    return dict(domain=domain, anchor=anchor, range=[1, 50], tickvals=X_TICKVALS, ticktext=text,
                ticks="inside", ticklen=11, tickwidth=2, tickcolor=GREY, showline=True, linecolor=GREY,
                linewidth=2.5, mirror=mirror, showgrid=False, zeroline=False, automargin=False,
                tickfont=dict(family=FONT, size=56, color=BLACK), ticklabelstandoff=0)


def yaxis(domain, anchor, rng, vals, text, mirror):
    return dict(domain=domain, anchor=anchor, range=rng, tickvals=vals, ticktext=text,
                ticks="inside", ticklen=11, tickwidth=2, tickcolor=GREY, showline=True, linecolor=GREY,
                linewidth=2.5, mirror=mirror, showgrid=False, zeroline=False, automargin=False,
                tickfont=dict(family=FONT, size=56, color=LABEL_GREY), ticklabelstandoff=8)


fef_a_vals = [0, 0.5, 1, 1.5, 2, 2.5, 3, 3.5, 4, 4.5]
fef_a_text = ["0", " ", "1", " ", "2", " ", "3", " ", "4", " "]
lip_a_vals = [0, 1, 2, 3, 4, 5, 6, 7, 8, 9]
lip_a_text = ["0", " ", "2", " ", "4", " ", "6", " ", "8", " "]
fef_b_vals = [-0.8, -0.6, -0.4, -0.2, 0, 0.2, 0.4, 0.6, 0.8]
fef_b_text = ["-0.8", " ", "-0.4", " ", "0", " ", "0.4", " ", "0.8"]
lip_b_vals = [-1, -0.8, -0.6, -0.4, -0.2, 0, 0.2, 0.4, 0.6, 0.8, 1]
lip_b_text = [" ", "-0.8", " ", "-0.4", " ", "0", " ", "0.4", " ", "0.8", " "]

fig.update_layout(
    xaxis=xaxis(left_dom, "y", True, X_TICKTEXT),
    yaxis=yaxis(top_dom, "x", [0, 4.5], fef_a_vals, fef_a_text, True),
    xaxis2=xaxis(right_dom, "y2", True, X_TICKTEXT_RIGHT),
    yaxis2=yaxis(top_dom, "x2", [0, 9], lip_a_vals, lip_a_text, True),
    xaxis3=xaxis(left_dom, "y3", "ticks", X_TICKTEXT),
    yaxis3=yaxis(bot_dom, "x3", [-0.8, 0.8], fef_b_vals, fef_b_text, "ticks"),
    xaxis4=xaxis(right_dom, "y4", "ticks", X_TICKTEXT_RIGHT),
    yaxis4=yaxis(bot_dom, "x4", [-1, 1], lip_b_vals, lip_b_text, "ticks"),
)

# --- text ---
ann = []
title_font = dict(family=FONT, size=70, color=BLACK, weight="bold")
label_font = dict(family=FONT, size=67, color=BLACK)
for txt, x, y in [("FEF (n = 54 sessions)", 614, 53), ("LIP (n = 49 sessions)", 1612, 53),
                  ("FEF (n = 54 sessions)", 614, 1015), ("LIP (n = 49 sessions)", 1612, 1015)]:
    ann.append(dict(text=txt, x=px(x), y=py(y), xref="paper", yref="paper", showarrow=False,
                    xanchor="center", yanchor="middle", font=title_font))
for txt, y in [("(A)", 36), ("(B)", 988)]:
    ann.append(dict(text=txt, x=px(OFF), y=py(y), xref="paper", yref="paper", showarrow=False,
                    xanchor="left", yanchor="middle", font=dict(family=FONT, size=64, color=BLACK, weight="bold")))
for txt, y in [("frequency (in Hz)", 855), ("frequency (in Hz)", 1814)]:
    ann.append(dict(text=txt, x=px(588), y=py(y), xref="paper", yref="paper", showarrow=False,
                    xanchor="center", yanchor="middle", font=label_font))
for txt, x, y in [("power (x 10<sup>7</sup>)", 49, 398), ("log power", 54, 1386)]:
    ann.append(dict(text=txt, x=px(x), y=py(y), xref="paper", yref="paper", showarrow=False,
                    xanchor="center", yanchor="middle", textangle=-90, font=label_font))
# "50" under the right edge of the LIP panels
for y in [783, 1744]:
    ann.append(dict(text="50", x=1, y=py(y), xref="paper", yref="paper", showarrow=False,
                    xanchor="right", yanchor="middle", font=dict(family=FONT, size=56, color=BLACK)))

# legend drawn by hand at the bottom
legend_font = dict(family=FONT, size=62, color=BLACK)
line1, line2 = py(1950), py(2047)
shapes = [
    dict(type="line", xref="paper", yref="paper", x0=px(OFF), x1=px(146), y0=line1, y1=line1,
         line=dict(color=ORANGE, width=10)),
    dict(type="line", xref="paper", yref="paper", x0=px(OFF), x1=px(146), y0=line2, y1=line2,
         line=dict(color=BLACK, width=10)),
]
for yy, col in [(line1, RED), (line2, BLACK)]:
    shapes.append(dict(type="circle", xref="paper", yref="paper", xsizemode="pixel", ysizemode="pixel",
                       xanchor=px(808), yanchor=yy, x0=-23, x1=23, y0=-23, y1=23,
                       fillcolor=col, line=dict(width=0)))
text1, text2 = py(1943), py(2036)
for txt, x, y in [("session-level power", 166, text1), ("mean power", 166, text2),
                  ("first highest peak in session-level power", 853, text1),
                  ("second highest peak in session-level power", 853, text2)]:
    ann.append(dict(text=txt, x=px(x), y=y, xref="paper", yref="paper", showarrow=False,
                    xanchor="left", yanchor="middle", font=legend_font))

fig.update_layout(width=W, height=H, margin=dict(l=0, r=0, t=0, b=0, pad=0, autoexpand=False),
                  paper_bgcolor="white", plot_bgcolor="white", showlegend=False,
                  annotations=ann, shapes=shapes, font=dict(family=FONT))

fig.write_html("out.html")
